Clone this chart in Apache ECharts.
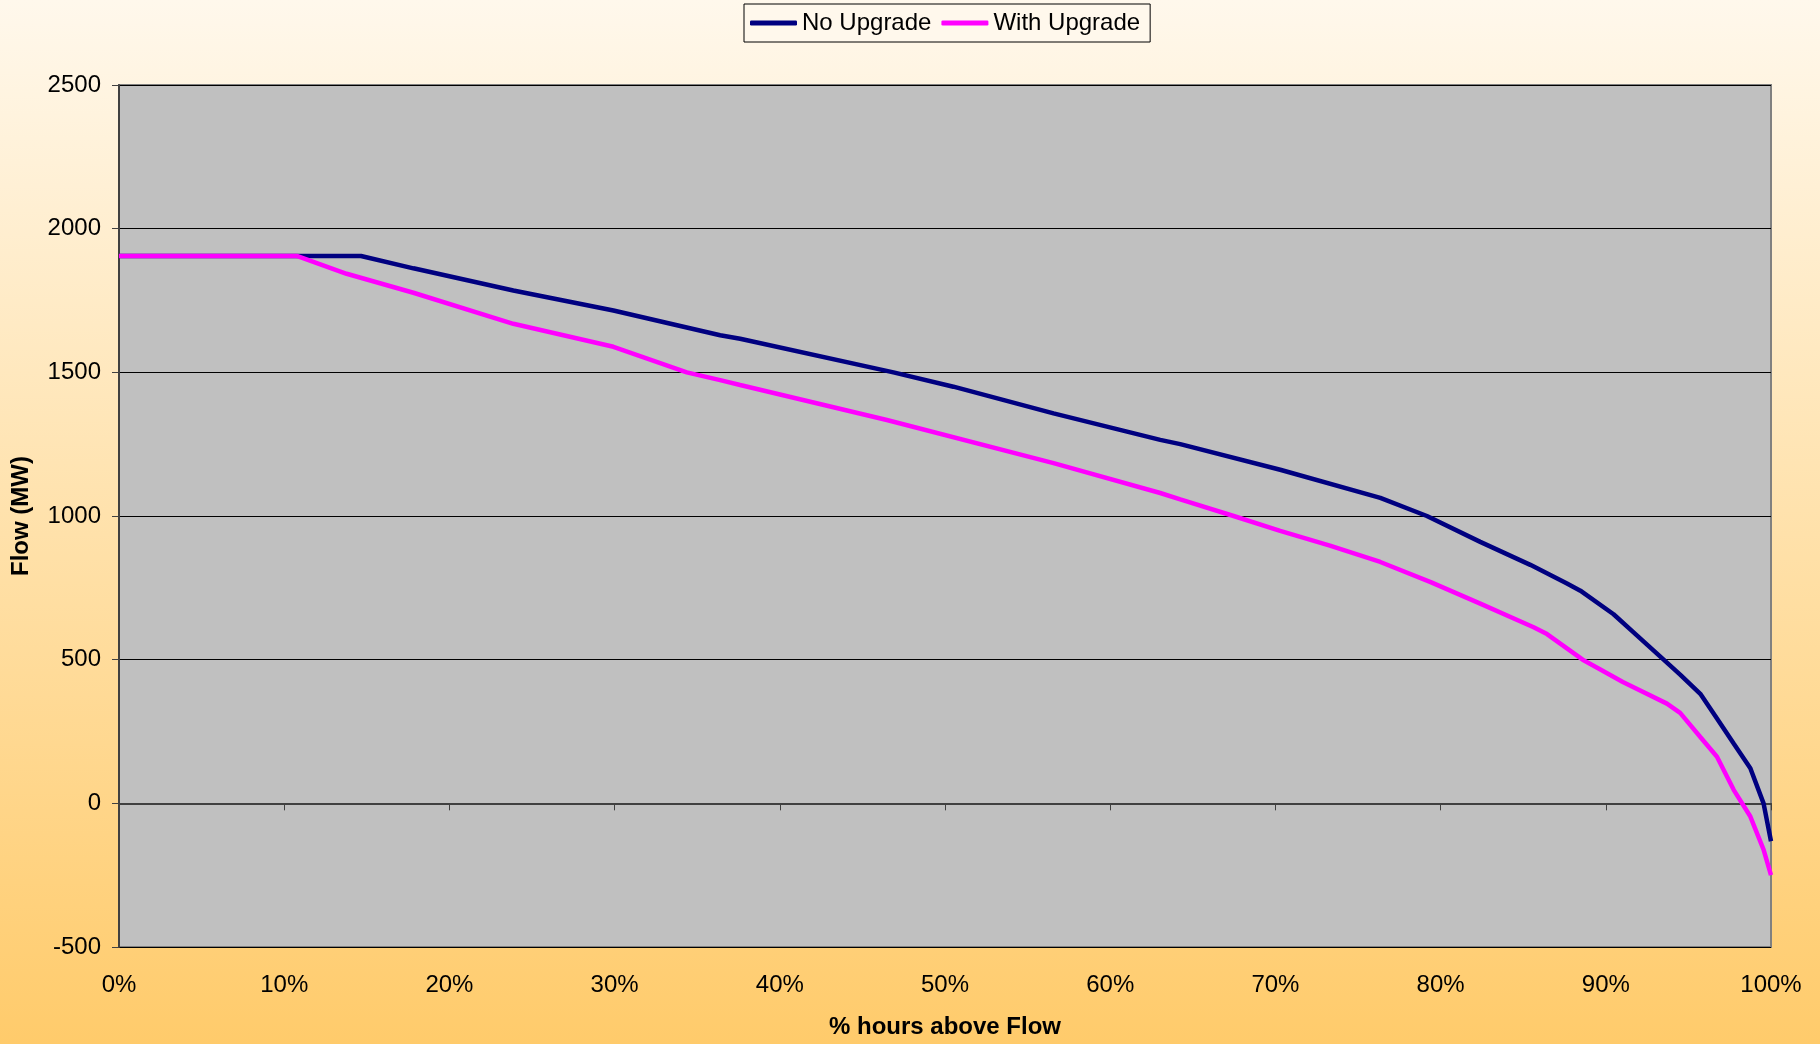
<!DOCTYPE html>
<html>
<head>
<meta charset="utf-8">
<script src="https://cdn.jsdelivr.net/npm/echarts@6/dist/echarts.min.js"></script>
<style>
html,body{margin:0;padding:0;}
#c{width:1820px;height:1044px;}
</style>
</head>
<body>
<div id="c"></div>
<script>
// % hours above flow (x) and flow in MW (y)
const noUpgradeX = [0, 14.65, 17.82, 23.87, 29.93, 36.39, 37.6, 46.88, 50.51, 56.57, 63.03, 64.24, 70.29, 76.35, 79.17, 82.4, 85.43, 87.65, 88.46, 90.47, 91.68, 93.5, 94.5, 95.72, 96.73, 97.74, 98.75, 99.55, 100];
const noUpgradeY = [1905, 1905, 1862, 1785, 1715, 1629, 1617, 1500, 1450, 1357, 1265, 1250, 1161, 1063, 1000, 910, 830, 765, 740, 658, 595, 500, 448, 381, 295, 208, 122, 0, -132];
const withUpgradeX = [0, 10.76, 13.78, 17.82, 23.87, 29.93, 34.37, 36.39, 37.6, 46.48, 56.57, 63.03, 64.24, 67.47, 70.29, 73.3, 76.35, 79.4, 82.4, 85.63, 86.44, 88.6, 89.67, 91.03, 93.7, 94.5, 95.72, 96.73, 97.74, 98.75, 99.55, 100];
const withUpgradeY = [1905, 1905, 1843, 1777, 1669, 1589, 1500, 1473, 1456, 1334, 1184, 1080, 1058, 1000, 948, 897, 840, 770, 695, 613, 589, 500, 466, 422, 347, 315, 231, 162, 47, -46, -161, -250];
const seriesNames = ['No Upgrade', 'With Upgrade'];
const xTitle = '% hours above Flow';
const yTitle = 'Flow (MW)';

const zip = (xs, ys) => xs.map((x, i) => [x, ys[i]]);
const font = 'Liberation Sans, Arial, sans-serif';

const chart = echarts.init(document.getElementById('c'));
chart.setOption({
  backgroundColor: new echarts.graphic.LinearGradient(0, 0, 0, 1, [
    {offset: 0, color: '#FFF8EC'},
    {offset: 1, color: '#FFCB6B'}
  ]),
  animation: false,
  legend: {
    data: seriesNames,
    top: 4,
    left: 744,
    padding: [7, 10, 7, 6],
    itemGap: 10,
    itemWidth: 47,
    itemHeight: 5,
    icon: 'roundRect',
    borderColor: '#000',
    borderWidth: 1,
    backgroundColor: '#FFF8EC',
    textStyle: {fontFamily: font, fontSize: 24, color: '#000'}
  },
  grid: {
    left: 119, right: 49, top: 85, bottom: 93,
    show: true,
    backgroundColor: '#C0C0C0',
    borderColor: '#808080',
    borderWidth: 2
  },
  xAxis: {
    type: 'value',
    min: 0, max: 100, interval: 10,
    name: xTitle,
    nameLocation: 'middle',
    nameGap: 68,
    nameTextStyle: {fontFamily: font, fontSize: 24, fontWeight: 'bold', color: '#000'},
    axisLine: {show: true, lineStyle: {color: '#404040', width: 2}},
    axisTick: {show: true, inside: false, length: 7, lineStyle: {color: '#404040', width: 1}},
    axisLabel: {fontFamily: font, fontSize: 24, color: '#000', margin: 26, formatter: '{value}%'},
    splitLine: {show: false}
  },
  yAxis: {
    type: 'value',
    min: -500, max: 2500, interval: 500,
    name: yTitle,
    nameLocation: 'middle',
    nameGap: 86,
    nameRotate: 90,
    nameTextStyle: {fontFamily: font, fontSize: 24, fontWeight: 'bold', color: '#000'},
    axisLine: {show: true, lineStyle: {color: '#404040', width: 2}},
    axisTick: {show: true, inside: false, length: 7, lineStyle: {color: '#404040', width: 1}},
    axisLabel: {fontFamily: font, fontSize: 24, color: '#000', margin: 18, formatter: v => String(v)},
    splitLine: {show: true, lineStyle: {color: '#000', width: 1}}
  },
  series: [
    {
      name: seriesNames[0],
      type: 'line',
      data: zip(noUpgradeX, noUpgradeY),
      showSymbol: false,
      smooth: false,
      itemStyle: {color: '#000080'},
      lineStyle: {color: '#000080', width: 4.5}
    },
    {
      name: seriesNames[1],
      type: 'line',
      data: zip(withUpgradeX, withUpgradeY),
      showSymbol: false,
      smooth: false,
      itemStyle: {color: '#FF00FF'},
      lineStyle: {color: '#FF00FF', width: 4.5}
    }
  ]
});
</script>
</body>
</html>
